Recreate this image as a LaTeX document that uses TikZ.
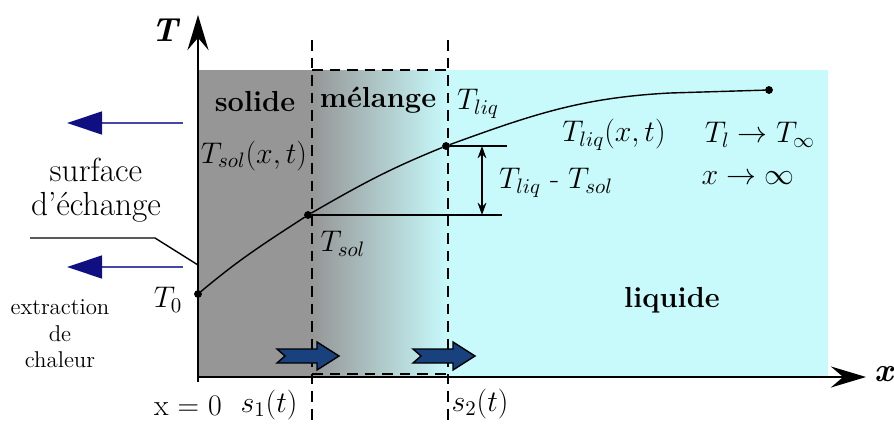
\documentclass[tikz,border=0pt]{standalone}
\usepackage{fix-cm}
\usetikzlibrary{arrows.meta}

\definecolor{solidgray}{RGB}{150,150,150}
\definecolor{liqcyan}{RGB}{200,250,252}
\definecolor{flowblue}{RGB}{70,70,165}
\definecolor{flowhead}{RGB}{15,15,130}
\definecolor{frontblue}{RGB}{25,65,125}

\begin{document}
\begin{tikzpicture}[x=0.02cm,y=-0.02cm,
        dot/.style={circle,draw,fill=black,minimum size=4pt,inner sep=0pt},
        phase/.style={font=\fontsize{16.5}{20}\selectfont\bfseries},
        lab/.style={font=\fontsize{17}{20}\selectfont},
        note/.style={font=\fontsize{13}{15}\selectfont,align=center},
        front/.style={line width=1pt,dash pattern=on 6pt off 4pt},
        axis/.style={line width=1.1pt,-{Stealth[length=20pt,width=12pt,inset=7pt]}},
        flow/.style={line width=1.3pt,draw=flowblue,-{Triangle[length=20pt,width=13pt,color=flowhead]}},
        frontarrow/.pic={
            \draw[fill=frontblue,draw=black,line width=0.8pt]
                (0,-7) -- (40,-7) -- (40,-14) -- (62,0) -- (40,14) -- (40,7) -- (0,7) -- (8,0) -- cycle;
        }]
    \useasboundingbox (0,0) rectangle (894,426);

    % Phases
    \fill[solidgray] (198,70) rectangle (312,377);
    \shade[left color=solidgray,right color=liqcyan] (312,70) rectangle (448,377);
    \fill[liqcyan] (448,70) rectangle (828,377);

    % Fronts s1 and s2
    \coordinate (s1top) at (312,40);
    \coordinate (s1bot) at (312,426);
    \coordinate (s2top) at (448,40);
    \coordinate (s2bot) at (448,426);
    \draw[front] (s1top) -- (s1bot);
    \draw[front] (s2top) -- (s2bot);
    \draw[front,line width=1.5pt] (312,70) -- (448,70);
    \draw[front,line width=1.5pt] (312,374) -- (448,374);

    % Axes
    \coordinate (Tbot) at (198,382);
    \coordinate (Ttop) at (198,15);
    \coordinate (xleft) at (198,377);
    \coordinate (xright) at (866,377);
    \draw[axis] (Tbot) -- (Ttop);
    \draw[axis] (xleft) -- (xright);
    \node[phase,font=\fontsize{19}{22}\selectfont\bfseries] (Tlab) at (166,30) {\textit{T}};
    \node[phase,font=\fontsize{19}{22}\selectfont\bfseries] (xlab) at (885,374) {\textit{x}};

    % Temperature profile
    \node[dot] (t0) at (198,294) {};
    \node[dot] (tsol) at (308,215) {};
    \node[dot] (tliq) at (446,146) {};
    \coordinate (flat) at (670,93);
    \node[dot] (tend) at (769,90) {};
    \draw[line width=0.8pt] (t0) to[out=40,in=213] (tsol) to[out=30,in=202] (tliq)
        to[out=20,in=183] (flat) -- (tend);

    % Difference Tliq - Tsol
    \coordinate (tsolR) at (502,215);
    \coordinate (tliqR) at (507,146);
    \coordinate (dA) at (482,146);
    \coordinate (dB) at (482,215);
    \draw[line width=0.8pt] (tsol) -- (tsolR);
    \draw[line width=0.8pt] (tliq) -- (tliqR);
    \draw[line width=0.8pt,{Stealth[length=7pt,width=5pt]}-{Stealth[length=7pt,width=5pt]}] (dA) -- (dB);

    % Moving fronts
    \pic at (277,356) {frontarrow};
    \pic at (413,356) {frontarrow};

    % Heat extraction
    \coordinate (f1s) at (183,123);
    \coordinate (f1e) at (67,123);
    \coordinate (f2s) at (183,267);
    \coordinate (f2e) at (67,267);
    \draw[flow] (f1s) -- (f1e);
    \draw[flow] (f2s) -- (f2e);

    % Exchange surface
    \node[lab,font=\fontsize{19}{19}\selectfont,align=center] (surf) at (96,190) {surface\\d'échange};
    \coordinate (leadL) at (30,238);
    \coordinate (leadR) at (155,238);
    \coordinate (wall) at (198,265);
    \draw[line width=0.8pt] (leadL) -- (leadR) -- (wall);
    \node[note] (extr) at (60,334) {extraction\\de\\chaleur};

    % Labels
    \node[phase] (solide) at (255,102) {solide};
    \node[phase] (melange) at (378,100) {mélange};
    \node[phase] (liquide) at (672,300) {liquide};
    \node[lab] (Tliqlab) at (478,104) {$T_{liq}$};
    \node[lab] (Tsolxt) at (254,156) {$T_{sol}(x,t)$};
    \node[lab] (Tsollab) at (343,244) {$T_{sol}$};
    \node[lab] (diff) at (556,183) {$T_{liq}$ - $T_{sol}$};
    \node[lab] (Tliqxt) at (614,135) {$T_{liq}(x,t)$};
    \node[lab] (Tinf) at (760,135) {$T_{l}\rightarrow T_{\infty}$};
    \node[lab] (xinf) at (748,178) {$x\rightarrow\infty$};
    \node[lab] (T0lab) at (168,300) {$T_0$};
    \node[lab] (x0) at (188,406) {x = 0};
    \node[lab] (s1lab) at (269,405) {$s_1(t)$};
    \node[lab] (s2lab) at (480,404) {$s_2(t)$};
\end{tikzpicture}
\end{document}
